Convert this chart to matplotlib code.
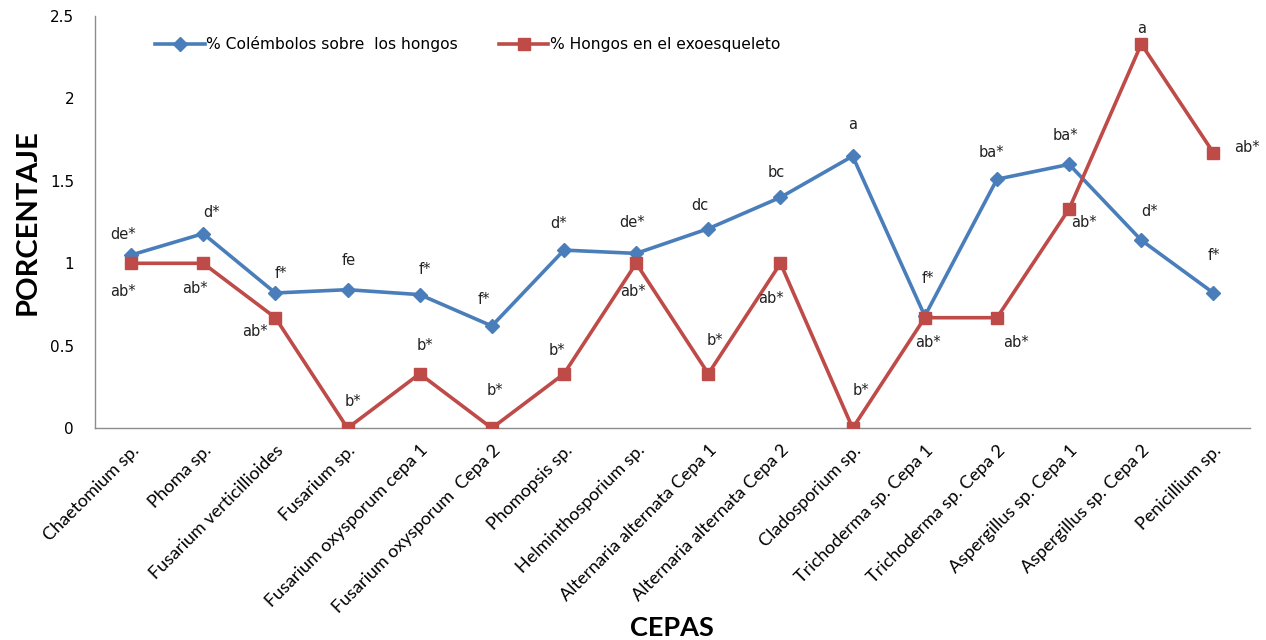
import matplotlib
matplotlib.use("Agg")
import matplotlib.pyplot as plt
import numpy as np

cepas = [
    "Chaetomium sp.", "Phoma sp.", "Fusarium verticillioides", "Fusarium sp.",
    "Fusarium oxysporum cepa 1", "Fusarium oxysporum  Cepa 2", "Phomopsis sp.",
    "Helminthosporium sp.", "Alternaria alternata Cepa 1", "Alternaria alternata Cepa 2",
    "Cladosporium sp.", "Trichoderma sp. Cepa 1", "Trichoderma sp. Cepa 2",
    "Aspergillus sp. Cepa 1", "Aspergillus sp. Cepa 2", "Penicillium sp.",
]
colembolos = [1.05, 1.18, 0.82, 0.84, 0.81, 0.62, 1.08, 1.06,
              1.21, 1.40, 1.65, 0.68, 1.51, 1.60, 1.14, 0.82]
hongos = [1.0, 1.0, 0.67, 0.0, 0.33, 0.0, 0.33, 1.0,
          0.33, 1.0, 0.0, 0.67, 0.67, 1.33, 2.33, 1.67]
letras_colembolos = ["de*", "d*", "f*", "fe", "f*", "f*", "d*", "de*",
                     "dc", "bc", "a", "f*", "ba*", "ba*", "d*", "f*"]
letras_hongos = ["ab*", "ab*", "ab*", "b*", "b*", "b*", "b*", "ab*",
                 "b*", "ab*", "b*", "ab*", "ab*", "ab*", "a", "ab*"]
yticks = [0, 0.5, 1, 1.5, 2, 2.5]

# label offsets in points (dx, dy) relative to each marker
off_col = [(-6, 15), (6, 15), (4, 14), (1, 21), (4, 18), (-6, 19), (-4, 19), (-3, 22),
           (-6, 17), (-3, 18), (0, 23), (2, 27), (-4, 19), (-3, 21), (6, 21), (0, 27)]
off_hon = [(-6, -20), (-6, -18), (-15, -10), (4, 19), (4, 20), (2, 27), (-5, 17), (-2, -20),
           (5, 24), (-7, -25), (6, 27), (2, -18), (14, -18), (11, -10), (0, 11), (24, 4)]

BLUE = "#4A7EBB"
RED = "#BE4B48"

fig = plt.figure(figsize=(12.66, 6.40), dpi=100)
ax = fig.add_axes([0.075, 0.331, 0.912, 0.644])

x = np.arange(len(cepas))
ax.plot(x, colembolos, color=BLUE, lw=2.6, marker="D", ms=7, mfc=BLUE, mec=BLUE,
        label="% Colémbolos sobre  los hongos", zorder=3)
ax.plot(x, hongos, color=RED, lw=2.6, marker="s", ms=9, mfc=RED, mec=RED,
        label="% Hongos en el exoesqueleto", zorder=3)

for xi, yi, t, (dx, dy) in zip(x, colembolos, letras_colembolos, off_col):
    ax.annotate(t, (xi, yi), xytext=(dx, dy), textcoords="offset points",
                ha="center", va="center", fontsize=10.5, color="#222222",
                family="DejaVu Sans")
for xi, yi, t, (dx, dy) in zip(x, hongos, letras_hongos, off_hon):
    ax.annotate(t, (xi, yi), xytext=(dx, dy), textcoords="offset points",
                ha="center", va="center", fontsize=10.5, color="#222222",
                family="DejaVu Sans")

ax.set_xlim(-0.5, len(cepas) - 0.5)
ax.set_ylim(0, 2.5)
ax.set_yticks(yticks)
ax.set_yticklabels([f"{v:g}" for v in yticks], fontsize=11, family="DejaVu Sans")
ax.set_xticks(x)
ax.set_xticklabels(cepas, rotation=45, ha="right", rotation_mode="anchor",
                   fontsize=13, family="Lato")
ax.tick_params(axis="both", length=0)
ax.tick_params(axis="y", pad=15)
ax.tick_params(axis="x", pad=10)
for s in ("top", "right"):
    ax.spines[s].set_visible(False)
for s in ("left", "bottom"):
    ax.spines[s].set_color("#8c8c8c")
    ax.spines[s].set_linewidth(1.0)

ax.set_ylabel("PORCENTAJE", fontsize=21, fontweight="bold", family="Lato", labelpad=7)
fig.text(0.531, 0.018, "CEPAS", ha="center", va="center", fontsize=19.5,
         fontweight="bold", family="Lato")

ax.legend(loc="upper left", bbox_to_anchor=(0.04, 0.985), ncol=2, frameon=False,
          handlelength=3.2, handletextpad=0.1, columnspacing=2.6,
          prop={"family": "DejaVu Sans", "size": 11.2})

fig.savefig("out.png", dpi=100)
